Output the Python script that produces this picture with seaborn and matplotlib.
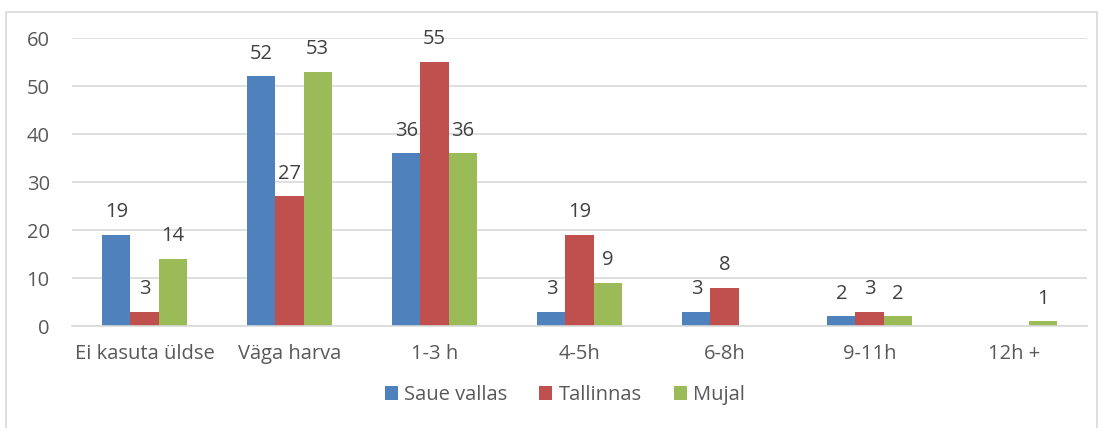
import matplotlib
matplotlib.use("Agg")
import matplotlib.pyplot as plt
import seaborn as sns
import pandas as pd
from matplotlib.patches import Rectangle

categories = ["Ei kasuta üldse", "Väga harva", "1-3 h", "4-5h", "6-8h", "9-11h", "12h +"]
series = ["Saue vallas", "Tallinnas", "Mujal"]
saue = [19, 52, 36, 3, 3, 2, 0]
tallinn = [3, 27, 55, 19, 8, 3, 0]
mujal = [14, 53, 36, 9, 0, 2, 1]
yticks = [0, 10, 20, 30, 40, 50, 60]
colors = ["#4F81BD", "#C0504D", "#9BBB59"]

rows = []
for s, vals in zip(series, [saue, tallinn, mujal]):
    for c, v in zip(categories, vals):
        rows.append({"cat": c, "series": s, "val": v})
df = pd.DataFrame(rows)

sns.set_theme(style="white")
plt.rcParams["font.family"] = ["Open Sans", "DejaVu Sans"]
txt = "#595959"
fs = 14.5

fig = plt.figure(figsize=(11.03, 4.28), dpi=100)
ax = fig.add_axes([72/1103, 1-326/428, (1087-72)/1103, (326-38)/428])

sns.barplot(data=df, x="cat", y="val", hue="series", order=categories,
            hue_order=series, palette=colors, width=0.58, gap=0,
            saturation=1, ax=ax, legend=True, errorbar=None, linewidth=0)

for cont, vals in zip(ax.containers, [saue, tallinn, mujal]):
    ax.bar_label(cont, labels=[str(v) if v else "" for v in vals],
                 padding=9, fontsize=fs, color="#404040")

ax.set_ylim(0, 60)
ax.set_yticks(yticks)
ax.set_xlim(-0.5, len(categories) - 0.5)
ax.set_xlabel("")
ax.set_ylabel("")
ax.yaxis.grid(True, color="#D9D9D9", linewidth=1.2)
ax.set_axisbelow(True)
for sp in ["left", "right", "top"]:
    ax.spines[sp].set_visible(False)
ax.spines["bottom"].set_color("#D9D9D9")
ax.spines["bottom"].set_linewidth(1.2)
ax.tick_params(axis="both", length=0, labelsize=fs, colors=txt)
ax.tick_params(axis="x", pad=13)
ax.tick_params(axis="y", pad=16)

h, l = ax.get_legend_handles_labels()
ax.get_legend().remove()
fig.legend(h, l, loc="center", bbox_to_anchor=(0.512, 1-395/428), ncol=3,
           frameon=False, fontsize=fs, handlelength=0.65, handleheight=0.65,
           handletextpad=0.3, columnspacing=1.6, labelcolor=txt)

fig.patches.append(Rectangle((6/1103, -0.1), (1097-6)/1103, 1.1-12/428,
                             transform=fig.transFigure, fill=False,
                             edgecolor="#D9D9D9", linewidth=1.2))

fig.savefig("out.png", dpi=100, facecolor="white")
